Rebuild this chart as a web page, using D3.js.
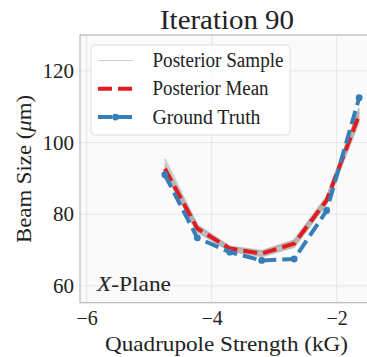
<!DOCTYPE html>
<html>
<head>
<meta charset="utf-8">
<script src="https://cdn.jsdelivr.net/npm/d3@7"></script>
<style>
  body { margin: 0; background: #fff; }
  text { font-family: "Liberation Serif", "DejaVu Serif", serif; fill: #222; }
</style>
</head>
<body>
<div id="svg_container"></div>
<script>
/* -----------------------
data
------------------------- */

var strength = [-4.75, -4.23, -3.71, -3.20, -2.68, -2.16, -1.64];
var groundTruth = [91.0, 73.4, 69.4, 67.1, 67.5, 81.0, 112.5];
var posteriorMean = [92.7, 76.0, 70.4, 69.0, 71.8, 83.9, 107.8];
var posteriorSamples = [
  [95.4, 77.0, 71.0, 69.8, 72.6, 84.7, 109.6],
  [91.7, 75.2, 69.9, 68.4, 71.0, 83.0, 106.4],
  [93.2, 76.4, 70.7, 69.4, 72.3, 84.3, 108.6],
  [92.2, 75.6, 70.1, 68.6, 71.4, 83.5, 107.0],
  [94.2, 76.8, 70.9, 69.6, 72.8, 84.9, 109.2],
  [92.6, 75.9, 70.3, 68.9, 71.7, 83.8, 107.6],
  [91.4, 75.0, 69.7, 68.2, 70.8, 82.8, 105.9],
  [93.6, 76.5, 70.6, 69.2, 72.1, 84.2, 108.3]
];
var xTicks = [-6, -4, -2];
var yTicks = [60, 80, 100, 120];

/* -----------------------
main variables
------------------------- */

var width = 367;
var height = 357;
var frame = {left: 80, right: 373, top: 35, bottom: 302.7};

var svg = d3.select("#svg_container")
  .append("svg")
  .attr("width", width)
  .attr("height", height);

var x = d3.scaleLinear().domain([-6.107, -1.419]).range([frame.left, frame.right]);
var y = d3.scaleLinear().domain([55.3, 130]).range([frame.bottom, frame.top]);

/* -----------------------
axes background + grid
------------------------- */

svg.append("rect")
  .attr("x", frame.left).attr("y", frame.top)
  .attr("width", frame.right - frame.left).attr("height", frame.bottom - frame.top)
  .attr("fill", "#fafafa");

svg.append("g").selectAll("line")
  .data(xTicks).enter().append("line")
  .attr("x1", function (d) { return x(d); }).attr("x2", function (d) { return x(d); })
  .attr("y1", frame.top).attr("y2", frame.bottom)
  .attr("stroke", "#e6e6e6").attr("stroke-width", 1);

svg.append("g").selectAll("line")
  .data(yTicks).enter().append("line")
  .attr("y1", function (d) { return y(d); }).attr("y2", function (d) { return y(d); })
  .attr("x1", frame.left).attr("x2", frame.right)
  .attr("stroke", "#e6e6e6").attr("stroke-width", 1);

svg.append("rect")
  .attr("x", frame.left).attr("y", frame.top)
  .attr("width", frame.right - frame.left).attr("height", frame.bottom - frame.top)
  .attr("fill", "none").attr("stroke", "#b8b8b8").attr("stroke-width", 1.2);

/* tick labels through d3 axes, no tick marks */
var xAxis = svg.append("g")
  .attr("transform", "translate(0," + frame.bottom + ")")
  .call(d3.axisBottom(x).tickValues(xTicks).tickSize(0).tickPadding(8)
    .tickFormat(function (d) { return "\u2212" + Math.abs(d); }));
xAxis.select(".domain").remove();
xAxis.selectAll("text").attr("font-size", 20).attr("font-family", "Liberation Serif").attr("fill", "#222");

var yAxis = svg.append("g")
  .attr("transform", "translate(" + frame.left + ",0)")
  .call(d3.axisLeft(y).tickValues(yTicks).tickSize(0).tickPadding(6));
yAxis.select(".domain").remove();
yAxis.selectAll("text").attr("font-size", 21).attr("font-family", "Liberation Serif").attr("fill", "#222");

/* -----------------------
lines
------------------------- */

var line = d3.line()
  .x(function (d, i) { return x(strength[i]); })
  .y(function (d) { return y(d); });

var plot = svg.append("g");

plot.selectAll(".sample")
  .data(posteriorSamples).enter().append("path")
  .attr("class", "sample")
  .attr("d", line)
  .attr("fill", "none")
  .attr("stroke", "#a8a8a8")
  .attr("stroke-opacity", 0.55)
  .attr("stroke-width", 1.8);

plot.append("path")
  .attr("d", line(posteriorMean))
  .attr("fill", "none")
  .attr("stroke", "#e41a1c")
  .attr("stroke-width", 4)
  .attr("stroke-dasharray", "14,6");

plot.append("path")
  .attr("d", line(groundTruth))
  .attr("fill", "none")
  .attr("stroke", "#377eb8")
  .attr("stroke-width", 4)
  .attr("stroke-dasharray", "14,6");

plot.selectAll(".gt")
  .data(groundTruth).enter().append("circle")
  .attr("class", "gt")
  .attr("cx", function (d, i) { return x(strength[i]); })
  .attr("cy", function (d) { return y(d); })
  .attr("r", 3.4)
  .attr("fill", "#377eb8");

/* -----------------------
legend
------------------------- */

var legend = svg.append("g").attr("transform", "translate(91,45)");
legend.append("rect")
  .attr("width", 199).attr("height", 90).attr("rx", 4)
  .attr("fill", "#ffffff").attr("fill-opacity", 0.85)
  .attr("stroke", "#dddddd").attr("stroke-width", 1);

var items = [
  {label: "Posterior Sample", len: 131, color: "#bbbbbb", w: 0.7, dash: null, marker: false},
  {label: "Posterior Mean", len: 116, color: "#e41a1c", w: 4, dash: "14,6", marker: false},
  {label: "Ground Truth", len: 108, color: "#377eb8", w: 4, dash: "14,6", marker: true}
];

var item = legend.selectAll(".item")
  .data(items).enter().append("g")
  .attr("transform", function (d, i) { return "translate(0," + (15.5 + i * 28.3) + ")"; });

item.append("line")
  .attr("x1", 7).attr("x2", 42).attr("y1", 0).attr("y2", 0)
  .attr("stroke", function (d) { return d.color; })
  .attr("stroke-width", function (d) { return d.w; })
  .attr("stroke-dasharray", function (d) { return d.dash; });

item.filter(function (d) { return d.marker; }).append("circle")
  .attr("cx", 24.5).attr("cy", 0).attr("r", 3.4).attr("fill", "#377eb8");

item.append("text")
  .attr("x", 61.5).attr("dy", "0.33em")
  .attr("font-size", 20)
  .attr("textLength", function (d) { return d.len; })
  .attr("lengthAdjust", "spacingAndGlyphs")
  .text(function (d) { return d.label; });

/* -----------------------
titles
------------------------- */

svg.append("text")
  .attr("x", 160).attr("y", 28.5)
  .attr("font-size", 28)
  .attr("textLength", 134)
  .attr("lengthAdjust", "spacingAndGlyphs")
  .text("Iteration 90");

svg.append("text")
  .attr("x", 105).attr("y", 350.5)
  .attr("font-size", 21)
  .attr("textLength", 243)
  .attr("lengthAdjust", "spacingAndGlyphs")
  .text("Quadrupole Strength (kG)");

var ylab = svg.append("text")
  .attr("transform", "translate(31,243) rotate(-90)")
  .attr("font-size", 22)
  .attr("textLength", 148)
  .attr("lengthAdjust", "spacingAndGlyphs");
ylab.append("tspan").text("Beam Size (");
ylab.append("tspan").attr("font-style", "italic").text("\u03bc");
ylab.append("tspan").text("m)");

var plane = svg.append("text")
  .attr("x", 97).attr("y", 290.7)
  .attr("font-size", 21)
  .attr("textLength", 74)
  .attr("lengthAdjust", "spacingAndGlyphs");
plane.append("tspan").attr("font-style", "italic").text("X");
plane.append("tspan").text("-Plane");
</script>
</body>
</html>
